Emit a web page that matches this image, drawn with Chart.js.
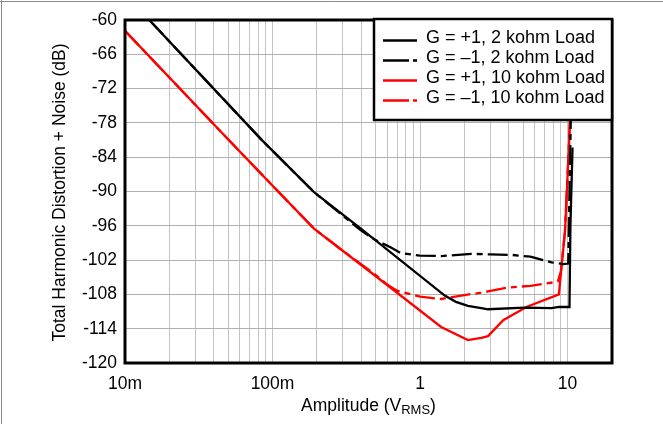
<!DOCTYPE html>
<html><head><meta charset="utf-8">
<script src="https://cdn.jsdelivr.net/npm/chart.js@4/dist/chart.umd.min.js"></script>
<style>html,body{margin:0;padding:0;background:#fff;}canvas{display:block;}</style>
</head><body>
<canvas id="c" width="663" height="424"></canvas>
<script>
// ---- data ----
const seriesLabels = ['G = +1, 2 kohm Load', 'G = \u20131, 2 kohm Load', 'G = +1, 10 kohm Load', 'G = \u20131, 10 kohm Load'];

const xG1_2k = [0.0146, 0.085, 0.191, 0.397, 1.47, 1.75, 2.11, 2.6, 2.89, 5.13, 7.78, 8.73, 10.3, 10.45, 10.8];
const yG1_2k = [-60, -81.05, -90.1, -96.5, -108.2, -109.3, -110.0, -110.4, -110.6, -110.3, -110.4, -110.2, -110.2, -96, -82.3];

const xGm1_2k = [0.0146, 0.085, 0.191, 0.397, 0.5, 0.635, 0.743, 1.0, 1.39, 2.22, 3.0, 4.2, 5.6, 7.78, 9.35, 10.1, 10.5, 10.7];
const yGm1_2k = [-60, -81.05, -90.1, -96.8, -98.5, -99.8, -100.8, -101.2, -101.3, -100.9, -101.0, -101.1, -101.4, -102.4, -102.7, -102.6, -78, -68];

const xG1_10k = [0.01, 0.0505, 0.102, 0.191, 0.29, 0.489, 1.39, 2.11, 2.6, 2.89, 3.66, 5.26, 8.73, 9.6, 10.4, 10.8];
const yG1_10k = [-61.9, -81.0, -89.2, -96.5, -100.1, -104.6, -113.7, -116.0, -115.6, -115.3, -112.5, -110.2, -108.0, -97.0, -77.8, -66];

const xGm1_10k = [0.01, 0.0505, 0.102, 0.191, 0.29, 0.489, 0.6, 0.704, 1.0, 1.39, 1.9, 2.6, 3.0, 3.95, 5.6, 8.0, 8.6, 9.0, 9.6, 10.2, 10.6];
const yGm1_10k = [-61.9, -81.0, -89.2, -96.5, -100.1, -104.4, -106.3, -107.4, -108.4, -108.8, -108.2, -107.7, -107.4, -106.8, -106.5, -105.9, -105.7, -104.0, -97.0, -82, -70];

const xGridValues = [0.01,0.02,0.03,0.04,0.05,0.06,0.07,0.08,0.09,0.1,0.2,0.3,0.4,0.5,0.6,0.7,0.8,0.9,1,2,3,4,5,6,7,8,9,10,20];
const xTickValues = [0.01, 0.1, 1, 10];
const xTickLabels = ['10m', '100m', '1', '10'];
const yMin = -120, yMax = -60, yStep = 6;

const yTitle = 'Total Harmonic Distortion + Noise (dB)';
const xTitleMain = 'Amplitude (V', xTitleSub = 'RMS', xTitleEnd = ')';

// ---- styles ----
const FONT = '"Liberation Sans", Arial, sans-serif';
const colors = ['#000000', '#000000', '#ff0000', '#ff0000'];
const dashes = [[], [20, 5, 6, 5], [], [20, 5, 6, 5]];
const xs = [xG1_2k, xGm1_2k, xG1_10k, xGm1_10k];
const ys = [yG1_2k, yGm1_2k, yG1_10k, yGm1_10k];

const datasets = seriesLabels.map((lab, i) => ({
  label: lab,
  data: xs[i].map((x, j) => ({x: x, y: ys[i][j]})),
  borderColor: colors[i],
  borderWidth: 2.3,
  borderDash: dashes[i],
  pointRadius: 0,
  tension: 0,
  fill: false
}));

const framePlugin = {
  id: 'frame',
  afterDatasetsDraw(chart) {
    const {ctx, chartArea: a} = chart;
    ctx.save();
    ctx.strokeStyle = '#000';
    ctx.lineWidth = 3;
    ctx.strokeRect(a.left, a.top, a.right - a.left, a.bottom - a.top);
    // legend box
    const bx = a.right - 238, by = a.top - 1, bw = 238, bh = 101;
    ctx.fillStyle = '#fff';
    ctx.fillRect(bx, by, bw, bh);
    ctx.lineWidth = 2.5;
    ctx.strokeRect(bx, by, bw, bh);
    ctx.font = '18px ' + FONT;
    ctx.textBaseline = 'middle';
    ctx.textAlign = 'left';
    seriesLabels.forEach((lab, i) => {
      const ty = by + 19.5 + i * 20;
      ctx.beginPath();
      ctx.strokeStyle = colors[i];
      ctx.lineWidth = 2.5;
      ctx.setLineDash(dashes[i].length ? [26, 4, 4, 4] : []);
      ctx.moveTo(bx + 9, ty + 2);
      ctx.lineTo(bx + 43, ty + 2);
      ctx.stroke();
      ctx.setLineDash([]);
      ctx.fillStyle = '#000';
      ctx.fillText(lab, bx + 52, ty);
    });
    ctx.restore();
  },
  afterDraw(chart) {
    const {ctx, chartArea: a} = chart;
    ctx.save();
    ctx.fillStyle = '#000';
    // y title
    ctx.save();
    ctx.font = '17.5px ' + FONT;
    ctx.textAlign = 'center';
    ctx.textBaseline = 'middle';
    ctx.translate(60, (a.top + a.bottom) / 2 + 1);
    ctx.rotate(-Math.PI / 2);
    ctx.fillText(yTitle, 0, 0);
    ctx.restore();
    // x title with subscript
    ctx.textBaseline = 'alphabetic';
    ctx.textAlign = 'left';
    const f1 = '17.5px ' + FONT, f2 = '13px ' + FONT;
    ctx.font = f1; const w1 = ctx.measureText(xTitleMain).width; const w3 = ctx.measureText(xTitleEnd).width;
    ctx.font = f2; const w2 = ctx.measureText(xTitleSub).width;
    const total = w1 + w2 + w3;
    let x0 = (a.left + a.right) / 2 - total / 2;
    const base = 411;
    ctx.font = f1; ctx.fillText(xTitleMain, x0, base);
    ctx.font = f2; ctx.fillText(xTitleSub, x0 + w1, base + 2.5);
    ctx.font = f1; ctx.fillText(xTitleEnd, x0 + w1 + w2, base);
    // outer frame lines
    ctx.strokeStyle = '#8a8a8a';
    ctx.lineWidth = 1;
    ctx.beginPath();
    ctx.moveTo(0, 1.5); ctx.lineTo(663, 1.5);
    ctx.moveTo(1.5, 0); ctx.lineTo(1.5, 424);
    ctx.stroke();
    ctx.restore();
  }
};

new Chart(document.getElementById('c'), {
  type: 'line',
  data: { datasets: datasets },
  options: {
    responsive: false,
    animation: false,
    events: [],
    layout: { padding: { top: 20, right: 51, bottom: 0, left: 0 } },
    plugins: { legend: { display: false }, tooltip: { enabled: false } },
    scales: {
      x: {
        type: 'logarithmic',
        min: 0.01, max: 20,
        afterBuildTicks: s => { s.ticks = xGridValues.map(v => ({value: v})); },
        afterFit: s => { s.height = 61; },
        ticks: {
          autoSkip: false, maxRotation: 0, minRotation: 0, padding: 11,
          color: '#000', font: { family: FONT, size: 17.5 },
          callback: function(v) {
            const k = xTickValues.findIndex(t => Math.abs(t - v) / t < 1e-6);
            return k >= 0 ? xTickLabels[k] : '';
          }
        },
        grid: { color: '#c4c4c4', lineWidth: 1, drawTicks: false },
        border: { display: false }
      },
      y: {
        min: yMin, max: yMax,
        afterFit: s => { s.width = 125; },
        ticks: { stepSize: yStep, padding: 8, color: '#000', font: { family: FONT, size: 17.5 } },
        grid: { color: '#b0b0b0', lineWidth: 1, drawTicks: false },
        border: { display: false },
        title: { display: false }
      }
    }
  },
  plugins: [framePlugin]
});
</script>
</body></html>
